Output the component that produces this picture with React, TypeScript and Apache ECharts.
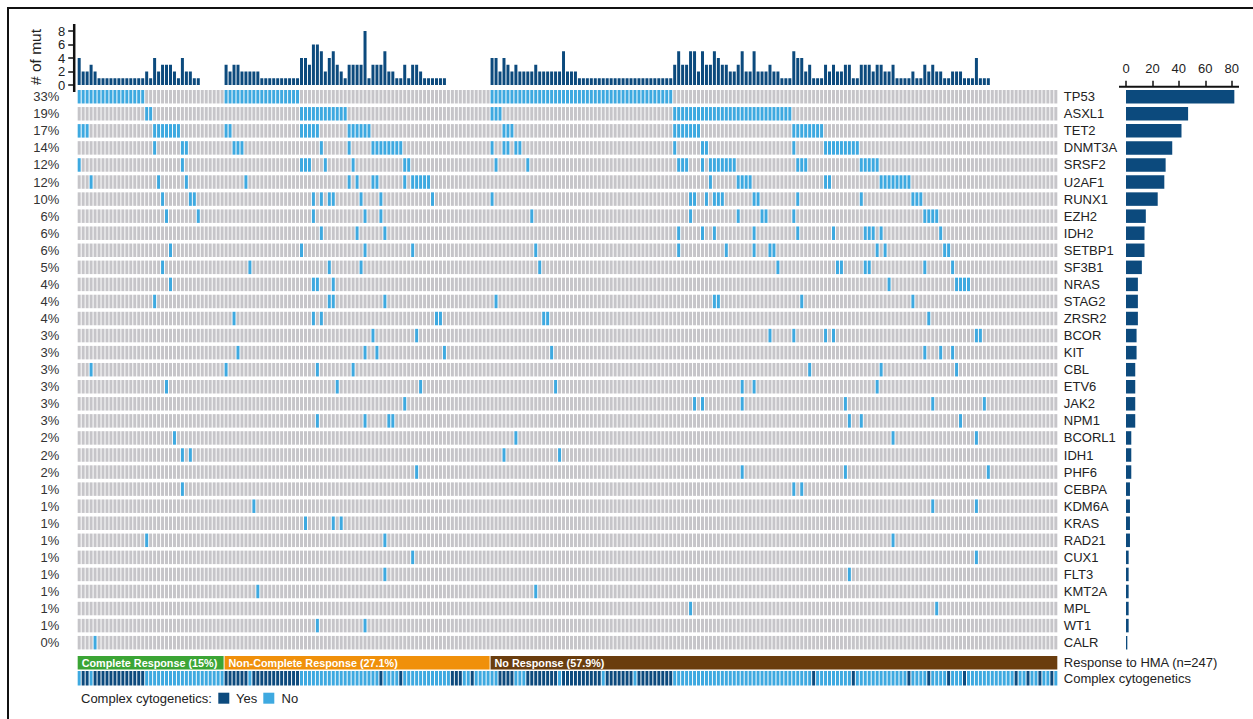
import React, { useEffect, useRef } from "react";
import * as echarts from "echarts";

// ---------------- DATA ----------------
const genes = ["TP53","ASXL1","TET2","DNMT3A","SRSF2","U2AF1","RUNX1","EZH2","IDH2","SETBP1","SF3B1","NRAS","STAG2","ZRSR2","BCOR","KIT","CBL","ETV6","JAK2","NPM1","BCORL1","IDH1","PHF6","CEBPA","KDM6A","KRAS","RAD21","CUX1","FLT3","KMT2A","MPL","WT1","CALR"];
const genePct = ["33%","19%","17%","14%","12%","12%","10%","6%","6%","6%","5%","4%","4%","4%","3%","3%","3%","3%","3%","3%","2%","2%","2%","1%","1%","1%","1%","1%","1%","1%","1%","1%","0%"];
const geneCounts = [82,47,42,35,30,29,24,15,14,14,12,9,9,9,8,8,7,7,7,7,4,4,4,3,3,3,3,2,2,2,2,2,1];

// mutated sample indices (0-based, samples ordered as in the plot)
const mTP53 = [0,1,2,3,4,5,6,7,8,9,10,11,12,13,14,15,16,37,38,39,40,41,42,43,44,45,46,47,48,49,50,51,52,53,54,55,104,105,106,107,108,109,110,111,112,113,114,115,116,117,118,119,120,121,122,123,124,125,126,127,128,129,130,131,132,133,134,135,136,137,138,139,140,141,142,143,144,145,146,147,148,149];
const mASXL1 = [17,18,56,57,58,59,60,61,62,63,64,65,66,67,104,105,106,150,151,152,153,154,155,156,157,158,159,160,161,162,163,164,165,166,167,168,169,170,171,172,173,174,175,176,177,178,179];
const mTET2 = [0,1,2,19,20,21,22,23,24,25,37,38,56,57,58,59,60,68,69,70,71,72,73,107,108,109,150,151,152,153,154,155,156,180,181,182,183,184,185,186,187];
const mDNMT3A = [19,26,27,39,40,41,61,68,74,75,76,77,78,79,80,81,104,107,108,110,111,150,157,158,180,188,189,190,191,192,193,194,195,196];
const mSRSF2 = [0,26,56,57,58,62,69,82,83,105,113,151,152,153,157,159,160,161,162,163,164,165,181,182,183,197,198,199,200,201];
const mU2AF1 = [3,20,27,42,68,70,74,75,82,84,85,86,87,88,159,166,167,168,169,188,189,202,203,204,205,206,207,208,209];
const mRUNX1 = [21,28,29,59,61,63,64,71,76,89,104,154,155,158,160,161,162,170,171,181,197,210,211,212];
const mEZH2 = [22,30,59,72,76,114,154,166,172,173,180,213,214,215,216];
const mIDH2 = [61,70,77,151,157,160,170,181,190,198,199,200,202,217];
const mSETBP1 = [23,56,72,84,115,151,163,170,174,175,201,203,218,219];
const mSF3B1 = [21,43,63,71,116,176,191,192,198,199,213,220];
const mNRAS = [23,59,60,64,204,221,222,223,224];
const mSTAG2 = [19,63,64,77,105,160,161,182,210];
const mZRSR2 = [39,59,61,90,91,117,118,214];
const mBCOR = [74,85,174,180,188,190,226,227];
const mKIT = [40,72,75,92,119,213,217,220];
const mCBL = [3,37,60,69,184,202,221];
const mETV6 = [22,65,86,120,167,170,201];
const mJAK2 = [82,155,157,167,193,215,228];
const mNPM1 = [60,72,78,79,194,197,222];
const mBCORL1 = [24,110,205,226];
const mIDH1 = [26,28,107,121];
const mPHF6 = [85,167,193,229];
const mCEBPA = [26,180,182];
const mKDM6A = [44,215,226];
const mKRAS = [57,64,66];
const mRAD21 = [17,77,205];
const mCUX1 = [84,226];
const mFLT3 = [77,194];
const mKMT2A = [45,115];
const mMPL = [154,216];
const mWT1 = [60,72];
const mCALR = [4];
const geneMutations = [mTP53,mASXL1,mTET2,mDNMT3A,mSRSF2,mU2AF1,mRUNX1,mEZH2,mIDH2,mSETBP1,mSF3B1,mNRAS,mSTAG2,mZRSR2,mBCOR,mKIT,mCBL,mETV6,mJAK2,mNPM1,mBCORL1,mIDH1,mPHF6,mCEBPA,mKDM6A,mKRAS,mRAD21,mCUX1,mFLT3,mKMT2A,mMPL,mWT1,mCALR];

// number of mutations per sample
const mutCountsCR = [4,2,2,3,2,1,1,1,1,1, 1,1,1,1,1,1,1,2,1,4, 2,3,3,3,2,1,4,2,2,1, 1,0,0,0,0,0,0];
const mutCountsNCR = [3,2,3,3,2,2,2,2,2,1, 1,1,1,1,1,1,1,1,1,4, 4,3,6,6,5,2,4,5,3,2, 1,3,3,3,3,8,1,3,3,3, 5,2,2,1,1,3,1,3,3,2, 1,1,1,1,1,1,0,0,0,0, 0,0,0,0,0,0,0];
const mutCountsNR = [4,4,2,4,3,2,3,2,2,2, 2,3,2,2,2,2,2,2,5,2, 2,2,1,1,1,1,1,1,1,1, 1,1,1,1,1,1,1,1,1,1, 1,1,1,1,1,1,3,5,3,3,
  5,5,2,5,3,3,5,4,3,3, 2,2,3,5,2,2,5,2,2,2, 3,2,2,1,1,1,5,4,4,2, 3,1,1,1,3,2,3,2,2,3, 3,1,1,3,3,3,2,3,3,2,
  2,3,1,1,1,1,2,1,1,3, 2,3,2,2,1,1,2,2,2,1, 1,1,4,1,1,1,0,0,0,0, 0,0,0,0,0,0,0,0,0,0, 0,0,0];
const mutCounts = [...mutCountsCR, ...mutCountsNCR, ...mutCountsNR];

// response groups
const groupLabels = ["Complete Response (15%)", "Non-Complete Response (27.1%)", "No Response (57.9%)"];
const groupStart = [0, 37, 104];
const groupEnd = [36, 103, 246];

// samples with complex cytogenetics = Yes
const complexYes = [1,2,4,5,6,7,8,9,10,11,12,13,14,15,16,37,38,39,40,41,42,44,45,46,47,48,49,50,51,52,53,54,55,76,81,94,95,96,99,106,107,108,109,113,114,115,116,117,118,119,120,122,123,124,125,126,127,128,129,130,131,133,134,135,136,137,138,139,141,142,143,144,145,146,147,148,149,185,195,209,214,219,223,236,239,242,245];

// ---------------- STYLE ----------------
const DARK = "#0c4a7d";
const LIGHT = "#3ea9e0";
const GREY = "#c6c5c9";
const GROUP_COLORS = ["#3ba535", "#f0900a", "#6a3d0e"];
const FONT = "Liberation Sans, Arial, Helvetica, sans-serif";

const GL = 77.2, GW = 980.6;
const MT = 88.2, MH = 563;

export default function App() {
  const ref = useRef<HTMLDivElement>(null);
  useEffect(() => {
    const chart = echarts.init(ref.current!, null, { renderer: "svg" });
    const samples = mutCounts.map((_, i) => "S" + (i + 1));
    const cells: number[][] = [];
    genes.forEach((_, r) => {
      const set = new Set(geneMutations[r]);
      for (let i = 0; i < samples.length; i++) cells.push([i, r, set.has(i) ? 1 : 0]);
    });
    const yesSet = new Set(complexYes);
    const complexData = samples.map((_, i) => [i, 0, yesSet.has(i) ? 1 : 0]);
    const groupData = groupLabels.map((_, k) => [groupStart[k], 0, groupEnd[k]]);

    const catX = (gi: number) => ({ gridIndex: gi, type: "category", data: samples, show: false, boundaryGap: true });

    const option: any = {
      animation: false,
      textStyle: { fontFamily: FONT },
      grid: [
        { left: GL, width: GW, top: 31, height: 54 },
        { left: GL, width: GW, top: MT, height: MH },
        { left: GL, width: GW, top: 656, height: 13.5 },
        { left: GL, width: GW, top: 671, height: 14.5 },
        { left: 1126, width: 112.3, top: MT, height: MH },
      ],
      xAxis: [
        catX(0), catX(1), catX(2), catX(3),
        {
          gridIndex: 4, type: "value", position: "top", min: 0, max: 85, interval: 20, offset: 1.5,
          axisLine: { show: false },
          axisTick: { show: true, length: 6, lineStyle: { color: "#111", width: 1.5 } },
          axisLabel: { fontSize: 13, color: "#222", margin: 12, fontFamily: FONT },
          splitLine: { show: false },
        },
      ],
      yAxis: [
        {
          gridIndex: 0, type: "value", min: 0, max: 8, interval: 2, offset: 3,
          axisLine: { show: false },
          axisTick: { show: true, length: 6, lineStyle: { color: "#111", width: 1.5 } },
          axisLabel: { fontSize: 13, color: "#222", margin: 9, fontFamily: FONT },
          splitLine: { show: false },
        },
        {
          gridIndex: 1, type: "category", data: genePct, inverse: true,
          axisLine: { show: false }, axisTick: { show: false },
          axisLabel: { fontSize: 13, color: "#333", margin: 18, fontFamily: FONT },
        },
        {
          gridIndex: 1, type: "category", data: genes, inverse: true, position: "right",
          axisLine: { show: false }, axisTick: { show: false },
          axisLabel: { fontSize: 13, color: "#222", margin: 6, fontFamily: FONT },
        },
        {
          gridIndex: 2, type: "category", data: ["Response to HMA (n=247)"], position: "right",
          axisLine: { show: false }, axisTick: { show: false },
          axisLabel: { fontSize: 13, color: "#222", margin: 6, fontFamily: FONT },
        },
        {
          gridIndex: 3, type: "category", data: ["Complex cytogenetics"], position: "right",
          axisLine: { show: false }, axisTick: { show: false },
          axisLabel: { fontSize: 13, color: "#222", margin: 6, fontFamily: FONT },
        },
        { gridIndex: 4, type: "category", data: genes, inverse: true, show: false },
      ],
      series: [
        {
          type: "bar", xAxisIndex: 0, yAxisIndex: 0, data: mutCounts, barWidth: 3,
          itemStyle: { color: DARK }, silent: true,
        },
        {
          type: "custom", xAxisIndex: 1, yAxisIndex: 1, data: cells, silent: true,
          renderItem: (_p: any, api: any) => {
            const c = api.coord([api.value(0), api.value(1)]);
            return {
              type: "rect",
              shape: { x: c[0] - 1.5, y: c[1] - 6.75, width: 3, height: 13.5 },
              style: { fill: api.value(2) ? LIGHT : GREY },
            };
          },
        },
        {
          type: "custom", xAxisIndex: 2, yAxisIndex: 3, data: groupData, silent: true,
          renderItem: (p: any, api: any) => {
            const c1 = api.coord([api.value(0), 0]);
            const c2 = api.coord([api.value(2), 0]);
            const k = p.dataIndex;
            return {
              type: "group",
              children: [
                {
                  type: "rect",
                  shape: { x: c1[0] - 1.5, y: c1[1] - 6.75, width: c2[0] - c1[0] + 3, height: 13.5 },
                  style: { fill: GROUP_COLORS[k] },
                },
                {
                  type: "text",
                  style: {
                    text: groupLabels[k], x: c1[0] + 2.5, y: c1[1] + 0.5,
                    fill: "#fff", fontSize: 10.8, fontWeight: "bold", fontFamily: FONT,
                    verticalAlign: "middle", align: "left",
                  },
                },
              ],
            };
          },
        },
        {
          type: "custom", xAxisIndex: 3, yAxisIndex: 4, data: complexData, silent: true,
          renderItem: (_p: any, api: any) => {
            const c = api.coord([api.value(0), 0]);
            return {
              type: "rect",
              shape: { x: c[0] - 1.5, y: c[1] - 7.25, width: 3, height: 14.5 },
              style: { fill: api.value(2) ? DARK : LIGHT },
            };
          },
        },
        {
          type: "bar", xAxisIndex: 4, yAxisIndex: 5, data: geneCounts, barWidth: 13.5,
          itemStyle: { color: DARK }, silent: true,
        },
      ],
      graphic: [
        { type: "line", shape: { x1: 8, y1: 7, x2: 8, y2: 719 }, style: { stroke: "#111", lineWidth: 2 }, silent: true },
        { type: "line", shape: { x1: 7, y1: 8, x2: 1253, y2: 8 }, style: { stroke: "#111", lineWidth: 2 }, silent: true },
        { type: "line", shape: { x1: 74.2, y1: 24, x2: 74.2, y2: 92 }, style: { stroke: "#111", lineWidth: 2.5 }, silent: true },
        { type: "line", shape: { x1: 1119, y1: 86.7, x2: 1239, y2: 86.7 }, style: { stroke: "#111", lineWidth: 2 }, silent: true },
        {
          type: "text", x: 35, y: 57, rotation: Math.PI / 2, silent: true,
          style: { text: "# of mut", fontSize: 15.5, fill: "#222", fontFamily: FONT, align: "center", verticalAlign: "middle" },
        },
        {
          type: "text", x: 81, y: 698, silent: true,
          style: { text: "Complex cytogenetics:", fontSize: 13, fill: "#222", fontFamily: FONT, verticalAlign: "middle" },
        },
        { type: "rect", shape: { x: 218.3, y: 692.7, width: 11, height: 11 }, style: { fill: DARK }, silent: true },
        {
          type: "text", x: 236, y: 698, silent: true,
          style: { text: "Yes", fontSize: 13, fill: "#222", fontFamily: FONT, verticalAlign: "middle" },
        },
        { type: "rect", shape: { x: 263.3, y: 692.7, width: 11, height: 11 }, style: { fill: LIGHT }, silent: true },
        {
          type: "text", x: 281.5, y: 698, silent: true,
          style: { text: "No", fontSize: 13, fill: "#222", fontFamily: FONT, verticalAlign: "middle" },
        },
      ],
    };
    chart.setOption(option);
    return () => chart.dispose();
  }, []);
  return <div ref={ref} style={{ position: "absolute", left: 0, top: 0, width: 1253, height: 719, background: "#fff" }} />;
}
